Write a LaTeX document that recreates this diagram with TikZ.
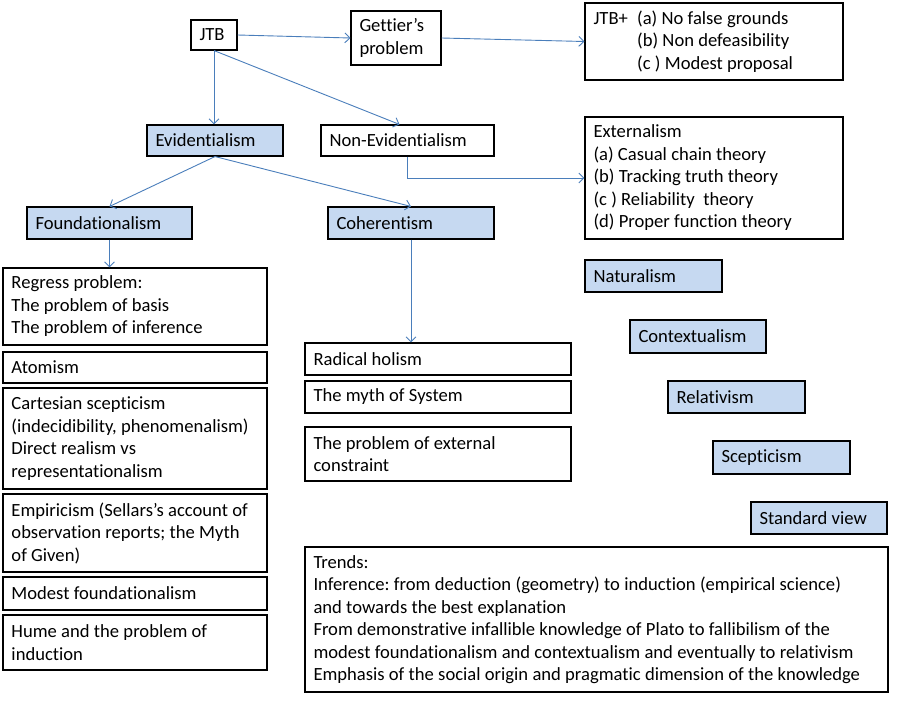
\documentclass[tikz,border=0pt]{standalone}
\usepackage{fontspec}
\setmainfont{Carlito}[RawFeature={-liga}]
\usetikzlibrary{arrows.meta}
\definecolor{boxblue}{HTML}{C6D9F1}
\definecolor{linkblue}{HTML}{4A7EBB}
\frenchspacing
\newcommand\myboxfont{\fontsize{18.6}{22.5}\selectfont\frenchspacing}
\newcommand\myspacing{\spaceskip=0.23em plus 0.1em minus 0.05em\relax\xspaceskip=0.23em\relax}
\tikzset{
  plainbox/.style={draw=black, line width=1.1pt, fill=white, inner xsep=8.5pt, inner ysep=0pt, align=left, font=\myboxfont},
  bluebox/.style={plainbox, fill=boxblue},
  link/.style={draw=linkblue, line width=0.9pt, -{Straight Barb[length=5pt,width=10pt]}},
}
\newcommand\mkbox[7]{%
  \pgfmathsetmacro\bw{#4-#2}\pgfmathsetmacro\bh{#5-#3}%
  \pgfmathsetmacro\btw{#4-#2-17}%
  \pgfmathsetmacro\bcx{(#2+#4)/2}\pgfmathsetmacro\bcy{(#3+#5)/2}%
  \node[#6, minimum width=\bw pt, minimum height=\bh pt, text width=\btw pt] (#1) at (\bcx pt,-\bcy pt) {\myspacing #7};}
\begin{document}
\begin{tikzpicture}
\useasboundingbox (0,0) rectangle (904pt,-707pt);
\mkbox{jtb}{191}{20}{237}{50}{plainbox}{JTB}
\mkbox{gettier}{351}{11}{441}{65}{plainbox}{Gettier’s\\problem}
\mkbox{jtbplus}{585}{3}{843}{80}{plainbox}{JTB+\enspace(a) No false grounds\\\phantom{JTB+\enspace}(b) Non defeasibility\\\phantom{JTB+\enspace}(c ) Modest proposal}
\mkbox{evid}{147}{125}{283}{156}{bluebox}{Evidentialism}
\mkbox{nonev}{321}{125}{494}{156}{plainbox}{Non-Evidentialism}
\mkbox{ext}{585}{117}{843}{239}{plainbox}{Externalism\\(a) Casual chain theory\\(b) Tracking truth theory\\(c ) Reliability\ \ theory\\(d) Proper function theory}
\mkbox{found}{27}{207}{192}{239}{bluebox}{Foundationalism}
\mkbox{coh}{328}{207}{494}{239}{bluebox}{Coherentism}
\mkbox{regress}{3}{268}{267}{345}{plainbox}{Regress problem:\\The problem of basis\\The problem of inference}
\mkbox{atom}{3}{352}{267}{383}{plainbox}{Atomism}
\mkbox{cart}{3}{388}{267}{489}{plainbox}{Cartesian scepticism\\(indecidibility, phenomenalism)\\Direct realism vs\\representationalism}
\mkbox{emp}{3}{494}{267}{572}{plainbox}{Empiricism (Sellars’s account of\\observation reports; the Myth\\of Given)}
\mkbox{modest}{3}{577}{267}{610}{plainbox}{Modest foundationalism}
\mkbox{hume}{3}{615}{267}{670}{plainbox}{Hume and the problem of\\induction}
\mkbox{radical}{305}{343}{571}{375}{plainbox}{Radical holism}
\mkbox{myth}{305}{381}{571}{413}{plainbox}{The myth of System}
\mkbox{extc}{305}{427}{571}{481}{plainbox}{The problem of external\\constraint}
\mkbox{nat}{585}{260}{722}{292}{bluebox}{Naturalism}
\mkbox{context}{630}{320}{766}{353}{bluebox}{Contextualism}
\mkbox{rel}{668}{381}{805}{413}{bluebox}{Relativism}
\mkbox{scep}{713}{441}{850}{474}{bluebox}{Scepticism}
\mkbox{std}{751}{502}{887}{534}{bluebox}{Standard view}
\mkbox{trends}{305}{547}{888}{692}{plainbox}{Trends:\\Inference: from deduction (geometry) to induction (empirical science)\\and towards the best explanation\\From demonstrative infallible knowledge of Plato to fallibilism of the\\modest foundationalism and contextualism and eventually to relativism\\Emphasis of the social origin and pragmatic dimension of the knowledge}
% connectors
\draw[link] (jtb.east) -- (gettier.west);
\draw[link] (gettier.east) -- (jtbplus.west);
\draw[link] (jtb.south) -- (jtb.south |- evid.north);
\draw[link] (jtb.south) -- ([xshift=-8pt]nonev.north);
\draw[link] (evid.south) -- (found.north);
\draw[link] (evid.south) -- (coh.north);
\draw[link] (found.south) -- (found.south |- regress.north);
\draw[link] (coh.south) -- (coh.south |- radical.north);
\draw[link] (nonev.south) |- (ext.west);
\end{tikzpicture}
\end{document}
